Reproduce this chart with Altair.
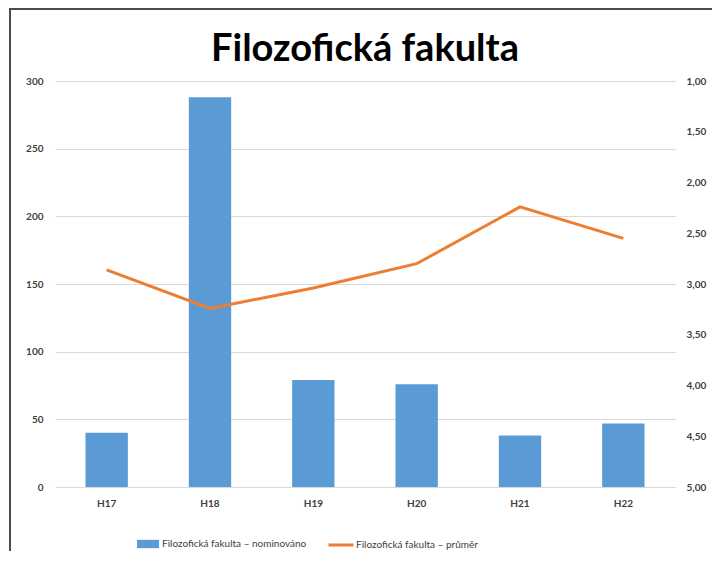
import altair as alt
import pandas as pd

categories = ["H17", "H18", "H19", "H20", "H21", "H22"]
nominated = [40, 288, 79, 76, 38, 47]
average = [2.86, 3.24, 3.04, 2.80, 2.24, 2.55]
bar_name = "Filozofická fakulta – nominováno"
line_name = "Filozofická fakulta – průměr"
left_ticks = [0, 50, 100, 150, 200, 250, 300]
right_ticks = [1.0, 1.5, 2.0, 2.5, 3.0, 3.5, 4.0, 4.5, 5.0]

df = pd.DataFrame({
    "kat": categories,
    "nom": nominated,
    "avg": average,
    "s_bar": [bar_name] * len(categories),
    "s_line": [line_name] * len(categories),
})

FONT = "Lato"
LBL = "#404040"

x_enc = alt.X("kat:N", sort=categories, title=None,
              scale=alt.Scale(paddingInner=0.59, paddingOuter=0.295),
              axis=alt.Axis(labelAngle=0, domain=False, ticks=False, labelPadding=11,
                            labelFont=FONT, labelFontSize=10, labelColor=LBL, labelFontWeight="bold"))

base = alt.Chart(df)

bars = base.mark_bar(color="#5b9bd5").encode(
    x=x_enc,
    y=alt.Y("nom:Q", title=None, scale=alt.Scale(domain=[0, 300], nice=False),
            axis=alt.Axis(values=left_ticks, orient="left", domain=False, ticks=False,
                          grid=True, gridColor="#d9d9d9", gridWidth=1, labelPadding=12,
                          labelFont=FONT, labelFontSize=10, labelColor=LBL, labelFontWeight="bold")),
    color=alt.Color("s_bar:N", title=None,
                    scale=alt.Scale(domain=[bar_name], range=["#5b9bd5"]),
                    legend=alt.Legend(orient="none", legendX=82, legendY=452,
                                      symbolType="M-1,-0.38L1,-0.38L1,0.38L-1,0.38Z",
                                      symbolSize=484, symbolStrokeWidth=0, symbolOpacity=1,
                                      labelFont=FONT, labelFontSize=10, labelColor=LBL,
                                      labelOffset=3, padding=0)),
)

line = base.mark_line(strokeWidth=3).encode(
    x=x_enc,
    y=alt.Y("avg:Q", title=None, scale=alt.Scale(domain=[1, 5], reverse=True, nice=False),
            axis=alt.Axis(values=right_ticks, orient="right", domain=False, ticks=False,
                          grid=False, labelPadding=11,
                          labelExpr="replace(format(datum.value, '.2f'), '.', ',')",
                          labelFont=FONT, labelFontSize=10, labelColor=LBL, labelFontWeight="bold")),
    stroke=alt.Stroke("s_line:N", title=None,
                      scale=alt.Scale(domain=[line_name], range=["#ed7d31"]),
                      legend=alt.Legend(orient="none", legendX=272, legendY=450,
                                        symbolType="stroke", symbolSize=625,
                                        symbolStrokeWidth=3,
                                        labelFont=FONT, labelFontSize=10, labelColor=LBL,
                                        labelOffset=1, padding=0)),
)

frame_df = pd.DataFrame({"k": [0]})
frame_top = alt.Chart(frame_df).mark_rule(color="#4d4d4d", strokeWidth=2).encode(
    x=alt.value(-46), x2=alt.value(660), y=alt.value(-72), y2=alt.value(-72))
frame_left = alt.Chart(frame_df).mark_rule(color="#4d4d4d", strokeWidth=2).encode(
    x=alt.value(-45), x2=alt.value(-45), y=alt.value(-73), y2=alt.value(475))

chart = alt.layer(bars, line, frame_top, frame_left).resolve_scale(
    y="independent", color="independent", stroke="independent"
).properties(
    width=620, height=406,
    title=alt.TitleParams("Filozofická fakulta", font=FONT, fontSize=38, fontWeight="bold",
                          color="#000000", anchor="middle", offset=0, frame="group",
                          baseline="alphabetic", dy=92),
    autosize=alt.AutoSizeParams(type="none"),
    padding={"left": 47, "top": 73, "right": 37, "bottom": 64},
).configure(background="white").configure_view(stroke=None)

chart.save("out.html", embed_options={"renderer": "svg", "actions": False})
